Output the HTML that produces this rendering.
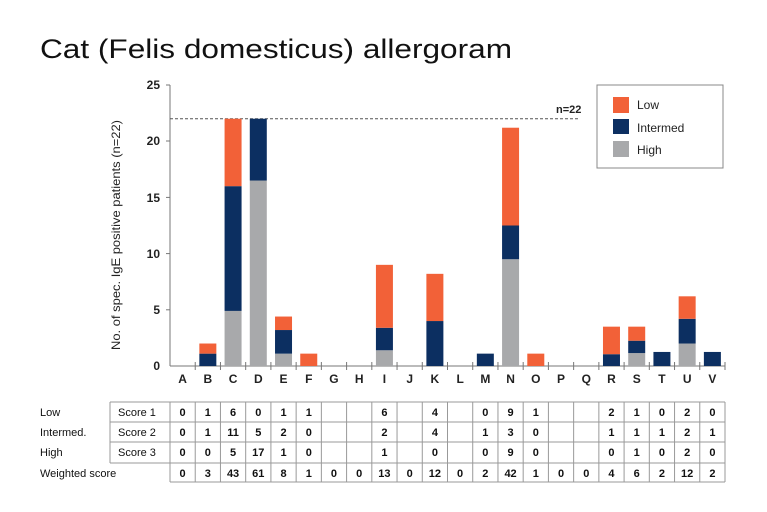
<!DOCTYPE html>
<html><head><meta charset="utf-8"><style>
html,body{margin:0;padding:0;background:#fff;}
svg{display:block;font-family:"Liberation Sans",sans-serif;}
</style></head><body>
<svg width="767" height="512" viewBox="0 0 767 512" xmlns="http://www.w3.org/2000/svg">
<text x="40" y="58" font-size="27" fill="#111" textLength="472" lengthAdjust="spacingAndGlyphs">Cat (Felis domesticus) allergoram</text>
<text transform="translate(120,235) rotate(-90)" font-size="12" text-anchor="middle" fill="#222" textLength="230" lengthAdjust="spacingAndGlyphs">No. of spec. IgE positive patients (n=22)</text>
<g id="axes" stroke="#777" stroke-width="1">
<line x1="170" y1="85" x2="170" y2="366"/>
<line x1="170" y1="366" x2="725" y2="366"/>
</g>
<g id="yt" font-size="12" fill="#222" text-anchor="end" font-weight="bold">
<text x="160" y="89">25</text><text x="160" y="145">20</text><text x="160" y="202">15</text>
<text x="160" y="258">10</text><text x="160" y="314">5</text><text x="160" y="370">0</text>
</g>
<g stroke="#777"><line x1="166" y1="85" x2="170" y2="85"/><line x1="166" y1="141" x2="170" y2="141"/><line x1="166" y1="197.4" x2="170" y2="197.4"/><line x1="166" y1="253.6" x2="170" y2="253.6"/><line x1="166" y1="309.8" x2="170" y2="309.8"/></g>
<line x1="170" y1="118.7" x2="580" y2="118.7" stroke="#555" stroke-dasharray="3,2"/>
<text x="556" y="113" font-size="11" fill="#222" font-weight="bold">n=22</text>
<g id="bars"></g>
<g id="xl" font-size="12" fill="#222" text-anchor="middle" font-weight="bold"></g>
<rect x="597" y="85" width="126" height="83" fill="#fff" stroke="#888"/>
<rect x="613" y="97" width="16" height="16" fill="#f26138"/>
<rect x="613" y="119" width="16" height="15" fill="#0c2f61"/>
<rect x="613" y="141" width="16" height="16" fill="#a8a9ab"/>
<g font-size="12" fill="#222"><text x="637" y="109">Low</text><text x="637" y="132">Intermed</text><text x="637" y="154">High</text></g>
<g id="tbl" stroke="#999" stroke-width="1" fill="none"></g>
<g id="tt" font-size="11" fill="#111" text-anchor="middle" font-weight="bold"></g>
<g font-size="11" fill="#111">
<text x="40" y="416">Low</text><text x="40" y="436">Intermed.</text><text x="40" y="456">High</text><text x="40" y="477">Weighted score</text>
<text x="118" y="416">Score 1</text><text x="118" y="436">Score 2</text><text x="118" y="456">Score 3</text>
</g>
<script>
var NS="http://www.w3.org/2000/svg";
function el(p,t,a,txt){var e=document.createElementNS(NS,t);for(var k in a)e.setAttribute(k,a[k]);if(txt!==undefined)e.textContent=txt;document.getElementById(p).appendChild(e);}
var L="ABCDEFGHIJKLMNOPQRSTUV".split(""),W=555/22,y0=366,s=11.24;
var d={B:[0,1.1,2],C:[4.9,16,22],D:[16.5,22,22],E:[1.1,3.2,4.4],F:[0,0,1.1],I:[1.4,3.4,9],K:[0,4,8.2],M:[0,1.1,1.1],N:[9.5,12.5,21.2],O:[0,0,1.1],R:[0,1.05,3.5],S:[1.15,2.25,3.5],T:[0,1.25,1.25],U:[2,4.2,6.2],V:[0,1.25,1.25]};
var cols=["#a8a9ab","#0c2f61","#f26138"];
L.forEach(function(c,i){var cx=170+W*(i+0.5);
el("xl","text",{x:cx,y:383},c);
el("axes","line",{x1:170+W*(i+1),y1:362,x2:170+W*(i+1),y2:370});
if(d[c]){var v=d[c],prev=0;for(var j=0;j<3;j++){if(v[j]>prev){el("bars","rect",{x:cx-8.5,y:y0-v[j]*s,width:17,height:(v[j]-prev)*s,fill:cols[j]});}prev=Math.max(prev,v[j]);}}
});
var r1=["0","1","6","0","1","1","","","6","","4","","0","9","1","","","2","1","0","2","0"];
var r2=["0","1","11","5","2","0","","","2","","4","","1","3","0","","","1","1","1","2","1"];
var r3=["0","0","5","17","1","0","","","1","","0","","0","9","0","","","0","1","0","2","0"];
var r4=["0","3","43","61","8","1","0","0","13","0","12","0","2","42","1","0","0","4","6","2","12","2"];
[[r1,416],[r2,436],[r3,456],[r4,477]].forEach(function(r){r[0].forEach(function(v,i){if(v)el("tt","text",{x:170+W*(i+0.5),y:r[1]},v);});});
[402,422,442,463].forEach(function(y){el("tbl","line",{x1:110,y1:y,x2:725,y2:y});});
el("tbl","line",{x1:170,y1:482,x2:725,y2:482});
el("tbl","line",{x1:110,y1:402,x2:110,y2:463});
for(var i=0;i<=22;i++)el("tbl","line",{x1:170+W*i,y1:402,x2:170+W*i,y2:482});
</script>
</svg>
</body></html>
